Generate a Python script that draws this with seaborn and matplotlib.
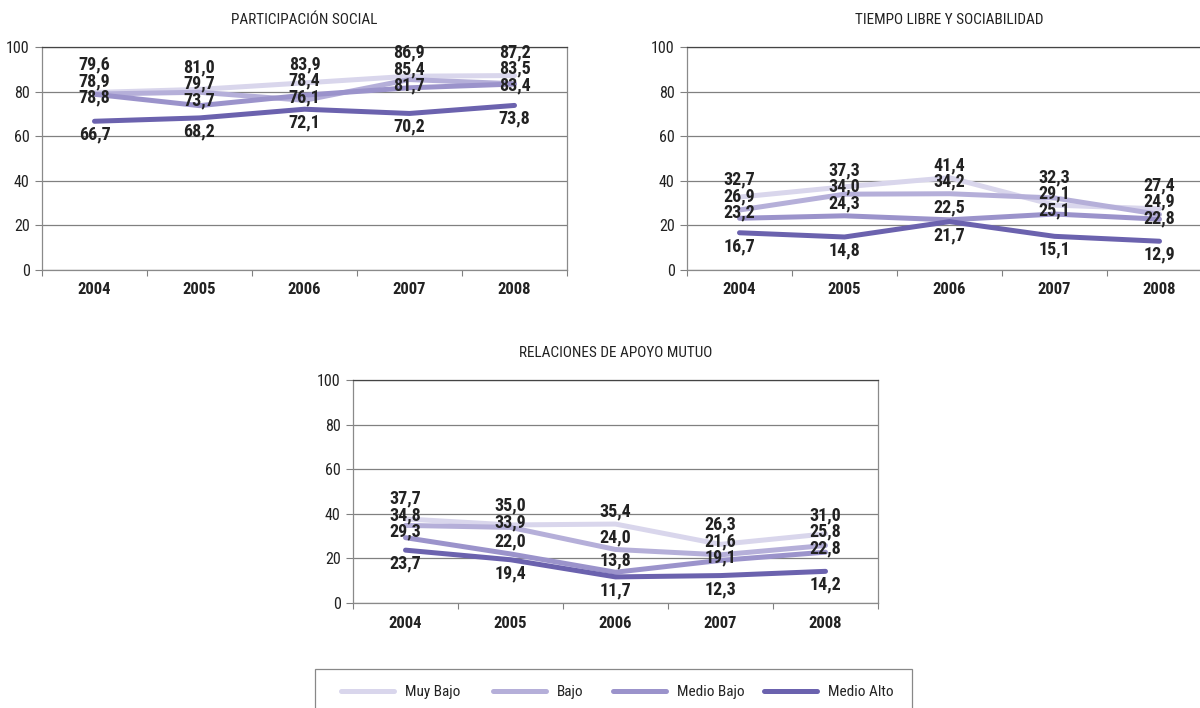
import matplotlib
matplotlib.use("Agg")
import matplotlib.pyplot as plt
from matplotlib.lines import Line2D
from matplotlib.patches import Rectangle
import seaborn as sns
import pandas as pd

years = ["2004", "2005", "2006", "2007", "2008"]
series = ["Muy Bajo", "Bajo", "Medio Bajo", "Medio Alto"]
colors = ["#d9d6ec", "#b5afd9", "#9b93cb", "#6b62ae"]

# PARTICIPACIÓN SOCIAL
ps_muy_bajo = [79.6, 81.0, 83.9, 86.9, 87.2]
ps_bajo = [78.9, 79.7, 76.1, 85.4, 83.5]
ps_medio_bajo = [78.8, 73.7, 78.4, 81.7, 83.4]
ps_medio_alto = [66.7, 68.2, 72.1, 70.2, 73.8]

# TIEMPO LIBRE Y SOCIABILIDAD
tl_muy_bajo = [32.7, 37.3, 41.4, 29.1, 27.4]
tl_bajo = [26.9, 34.0, 34.2, 32.3, 24.9]
tl_medio_bajo = [23.2, 24.3, 22.5, 25.1, 22.8]
tl_medio_alto = [16.7, 14.8, 21.7, 15.1, 12.9]

# RELACIONES DE APOYO MUTUO
am_muy_bajo = [37.7, 35.0, 35.4, 26.3, 31.0]
am_bajo = [34.8, 33.9, 24.0, 21.6, 25.8]
am_medio_bajo = [29.3, 22.0, 13.8, 19.1, 22.8]
am_medio_alto = [23.7, 19.4, 11.7, 12.3, 14.2]

titles = ["PARTICIPACIÓN SOCIAL", "TIEMPO LIBRE Y SOCIABILIDAD", "RELACIONES DE APOYO MUTUO"]
charts = [
    [ps_muy_bajo, ps_bajo, ps_medio_bajo, ps_medio_alto],
    [tl_muy_bajo, tl_bajo, tl_medio_bajo, tl_medio_alto],
    [am_muy_bajo, am_bajo, am_medio_bajo, am_medio_alto],
]

sns.set_theme(style="white")
FONT = ["Roboto Condensed", "DejaVu Sans Condensed", "Roboto", "DejaVu Sans"]
plt.rcParams["font.family"] = FONT

W, H = 1200, 708
fig = plt.figure(figsize=(12, 7.08), dpi=100)

def frac(left, top, right, bottom):
    return [left / W, 1 - bottom / H, (right - left) / W, (bottom - top) / H]

positions = [
    frac(42, 47, 567, 270),
    frac(687, 47, 1212, 270),
    frac(353, 380, 878, 603),
]

def layout_labels(vals, gap=7.4, up=5.5, down=6.0):
    order = sorted(range(len(vals)), key=lambda i: -vals[i])
    pos = []
    for r, i in enumerate(order):
        pos.append(vals[i] - down if r == len(order) - 1 else vals[i] + up)
    for _ in range(300):
        for k in range(len(pos) - 1):
            d = pos[k] - pos[k + 1]
            if d < gap:
                s = (gap - d) / 2
                pos[k] += s
                pos[k + 1] -= s
    res = [0] * len(vals)
    for r, i in enumerate(order):
        res[i] = pos[r]
    return res

for title, data, rect in zip(titles, charts, positions):
    ax = fig.add_axes(rect)
    rows = []
    for name, vals in zip(series, data):
        for xi, v in enumerate(vals):
            rows.append({"x": xi, "valor": v, "serie": name})
    df = pd.DataFrame(rows)
    sns.lineplot(data=df, x="x", y="valor", hue="serie", hue_order=series,
                 palette=colors, linewidth=3.6, legend=False, ax=ax, zorder=3)
    for ln in ax.lines:
        ln.set_solid_capstyle("round")
    ax.set_xlim(-0.5, 4.5)
    ax.set_ylim(0, 100)
    ax.set_yticks(range(0, 101, 20))
    ax.set_yticklabels([str(v) for v in range(0, 101, 20)], fontsize=11.5, color="#222222")
    ax.set_xticks(range(5))
    ax.set_xticklabels(years, fontsize=12, fontweight="bold", color="#222222")
    ax.set_xticks([i - 0.5 for i in range(6)], minor=True)
    ax.tick_params(axis="x", which="major", length=0, pad=9)
    ax.tick_params(axis="x", which="minor", length=4, width=0.8, color="#808080", direction="out", bottom=True)
    ax.tick_params(axis="y", length=5, width=0.8, color="#808080", direction="out", left=True, pad=4)
    ax.set_xlabel("")
    ax.set_ylabel("")
    ax.grid(axis="y", color="#808080", linewidth=0.9, zorder=0)
    ax.grid(axis="x", visible=False)
    for sp in ["left", "bottom", "right"]:
        ax.spines[sp].set_color("#8a8a8a")
        ax.spines[sp].set_linewidth(0.9)
    ax.spines["top"].set_color("#444444")
    ax.spines["top"].set_linewidth(0.9)
    ax.text(0.5, 1 + 27 / 223, title, transform=ax.transAxes, ha="center", va="center",
            fontsize=11, color="#222222")
    for xi in range(5):
        vals = [d[xi] for d in data]
        ys = layout_labels(vals)
        for v, yv in zip(vals, ys):
            ax.text(xi, yv, f"{v:.1f}".replace(".", ","), ha="center", va="center",
                    fontsize=13, fontweight="bold", color="#222222", zorder=5)

# legend box
fig.add_artist(Rectangle((315 / W, 1 - 730 / H), (912 - 315) / W, (730 - 669) / H,
                         transform=fig.transFigure, fill=False, edgecolor="#888888",
                         linewidth=0.9))
entry_x = [341, 493, 613, 764]
for name, c, ex in zip(series, colors, entry_x):
    h = Line2D([0], [0], color=c, linewidth=3.6, solid_capstyle="round")
    leg = fig.legend([h], [name], loc="center left",
                     bbox_to_anchor=(ex / W, 1 - 692 / H), frameon=False,
                     fontsize=11, handlelength=3.5, handletextpad=0.7, borderpad=0.0,
                     borderaxespad=0.0)
    for t in leg.get_texts():
        t.set_color("#222222")

fig.savefig("out.png", dpi=100)
